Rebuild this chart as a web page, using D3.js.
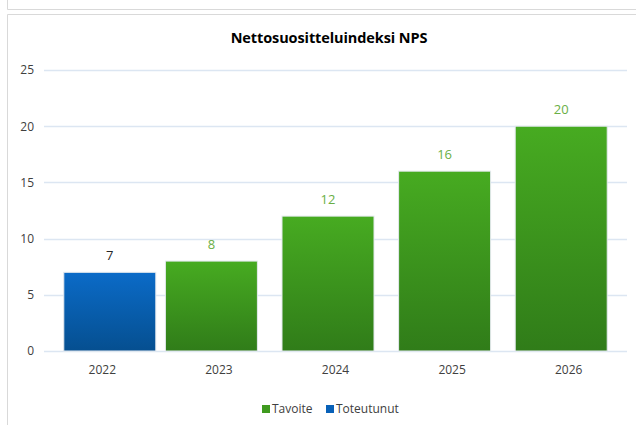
<!DOCTYPE html>
<html>
<head>
<meta charset="utf-8">
<script src="https://cdn.jsdelivr.net/npm/d3@7"></script>
<style>
  html, body { margin: 0; padding: 0; background: #fff; }
  svg { display: block; font-family: "Open Sans", "Noto Sans", sans-serif; }
</style>
</head>
<body>
<div id="chart"></div>
<script>
const years = ["2022", "2023", "2024", "2025", "2026"];
const seriesNames = ["Tavoite", "Toteutunut"];
const tavoite = [null, 8, 12, 16, 20];
const toteutunut = [7, null, null, null, null];
const yTicks = [0, 5, 10, 15, 20, 25];

const width = 636;
const height = 425;
const plot = { left: 44, right: 627, top: 70, bottom: 351 };

const svg = d3.select("#chart")
  .append("svg")
  .attr("width", width)
  .attr("height", height);

// panel frames
svg.append("path")
  .attr("d", "M7.5,0 V9.5 H636")
  .attr("fill", "none")
  .attr("stroke", "#d9d9d9");
svg.append("path")
  .attr("d", "M7.5,425 V14.5 H636")
  .attr("fill", "none")
  .attr("stroke", "#d9d9d9");

// gradients
const defs = svg.append("defs");
const grads = [
  { id: "gradGreen", top: "#47ab21", bottom: "#307c19" },
  { id: "gradBlue", top: "#0b6bc8", bottom: "#054f90" }
];
grads.forEach(function (g) {
  const lg = defs.append("linearGradient")
    .attr("id", g.id)
    .attr("x1", "0%").attr("x2", "0%")
    .attr("y1", "0%").attr("y2", "100%");
  lg.append("stop").attr("offset", "0%").attr("stop-color", g.top);
  lg.append("stop").attr("offset", "100%").attr("stop-color", g.bottom);
});

const x = d3.scaleBand()
  .domain(years)
  .range([plot.left, plot.right])
  .paddingInner(0)
  .paddingOuter(0);

const y = d3.scaleLinear()
  .domain([0, 25])
  .range([plot.bottom, plot.top]);

// series sit in a heavily overlapped cluster
const xs = d3.scalePoint()
  .domain(seriesNames)
  .range([-7.5, 7.5]);
const barWidth = 92;

// gridlines
svg.append("g")
  .selectAll("line")
  .data(yTicks)
  .enter()
  .append("line")
  .attr("x1", plot.left)
  .attr("x2", plot.right)
  .attr("y1", (d) => Math.round(y(d)) + 0.5)
  .attr("y2", (d) => Math.round(y(d)) + 0.5)
  .attr("stroke", "#dce6f2")
  .attr("stroke-width", 1.5);

// y axis labels
const yAxis = svg.append("g")
  .attr("transform", "translate(" + (plot.left - 10) + ",0)")
  .call(d3.axisLeft(y).tickValues(yTicks).tickSize(0).tickPadding(0));
yAxis.select(".domain").remove();
yAxis.selectAll("text")
  .attr("font-size", 12)
  .attr("fill", "#404040")
  .attr("font-family", "'Open Sans', sans-serif");

// x axis labels
const xAxis = svg.append("g")
  .attr("transform", "translate(0," + (plot.bottom + 14) + ")")
  .call(d3.axisBottom(x).tickSize(0).tickPadding(0));
xAxis.select(".domain").remove();
xAxis.selectAll("text")
  .attr("font-size", 12)
  .attr("fill", "#404040")
  .attr("font-family", "'Open Sans', sans-serif");

// bars
const series = [
  { name: "Tavoite", values: tavoite, fill: "url(#gradGreen)", label: "#6aaf45" },
  { name: "Toteutunut", values: toteutunut, fill: "url(#gradBlue)", label: "#262626" }
];

series.forEach(function (s) {
  const data = years
    .map((yr, i) => ({ year: yr, value: s.values[i] }))
    .filter((d) => d.value != null);

  svg.append("g")
    .selectAll("rect")
    .data(data)
    .enter()
    .append("rect")
    .attr("x", (d) => x(d.year) + x.bandwidth() / 2 + xs(s.name) - barWidth / 2)
    .attr("y", (d) => y(d.value))
    .attr("width", barWidth)
    .attr("height", (d) => y(0) - y(d.value))
    .attr("fill", s.fill)
    .attr("stroke", "#e4e9ee")
    .attr("stroke-width", 1);

  svg.append("g")
    .selectAll("text")
    .data(data)
    .enter()
    .append("text")
    .attr("x", (d) => x(d.year) + x.bandwidth() / 2 + xs(s.name))
    .attr("y", (d) => y(d.value) - 12)
    .attr("text-anchor", "middle")
    .attr("font-size", 13)
    .attr("fill", s.label)
    .text((d) => d.value);
});

// title
svg.append("text")
  .attr("x", 329)
  .attr("y", 43)
  .attr("text-anchor", "middle")
  .attr("font-size", 14.5)
  .attr("font-weight", "bold")
  .attr("letter-spacing", "-0.1")
  .attr("fill", "#000")
  .text("Nettosuositteluindeksi NPS");

// legend
const legendItems = [
  { name: "Tavoite", color: "#3f9a1f", x: 262 },
  { name: "Toteutunut", color: "#0861b8", x: 326 }
];
const legend = svg.append("g").attr("transform", "translate(0,409)");
legend.selectAll("rect")
  .data(legendItems)
  .enter()
  .append("rect")
  .attr("x", (d) => d.x)
  .attr("y", -4)
  .attr("width", 8)
  .attr("height", 8)
  .attr("fill", (d) => d.color);
legend.selectAll("text")
  .data(legendItems)
  .enter()
  .append("text")
  .attr("x", (d) => d.x + 10)
  .attr("y", 4)
  .attr("font-size", 12)
  .attr("fill", "#404040")
  .text((d) => d.name);
</script>
</body>
</html>
